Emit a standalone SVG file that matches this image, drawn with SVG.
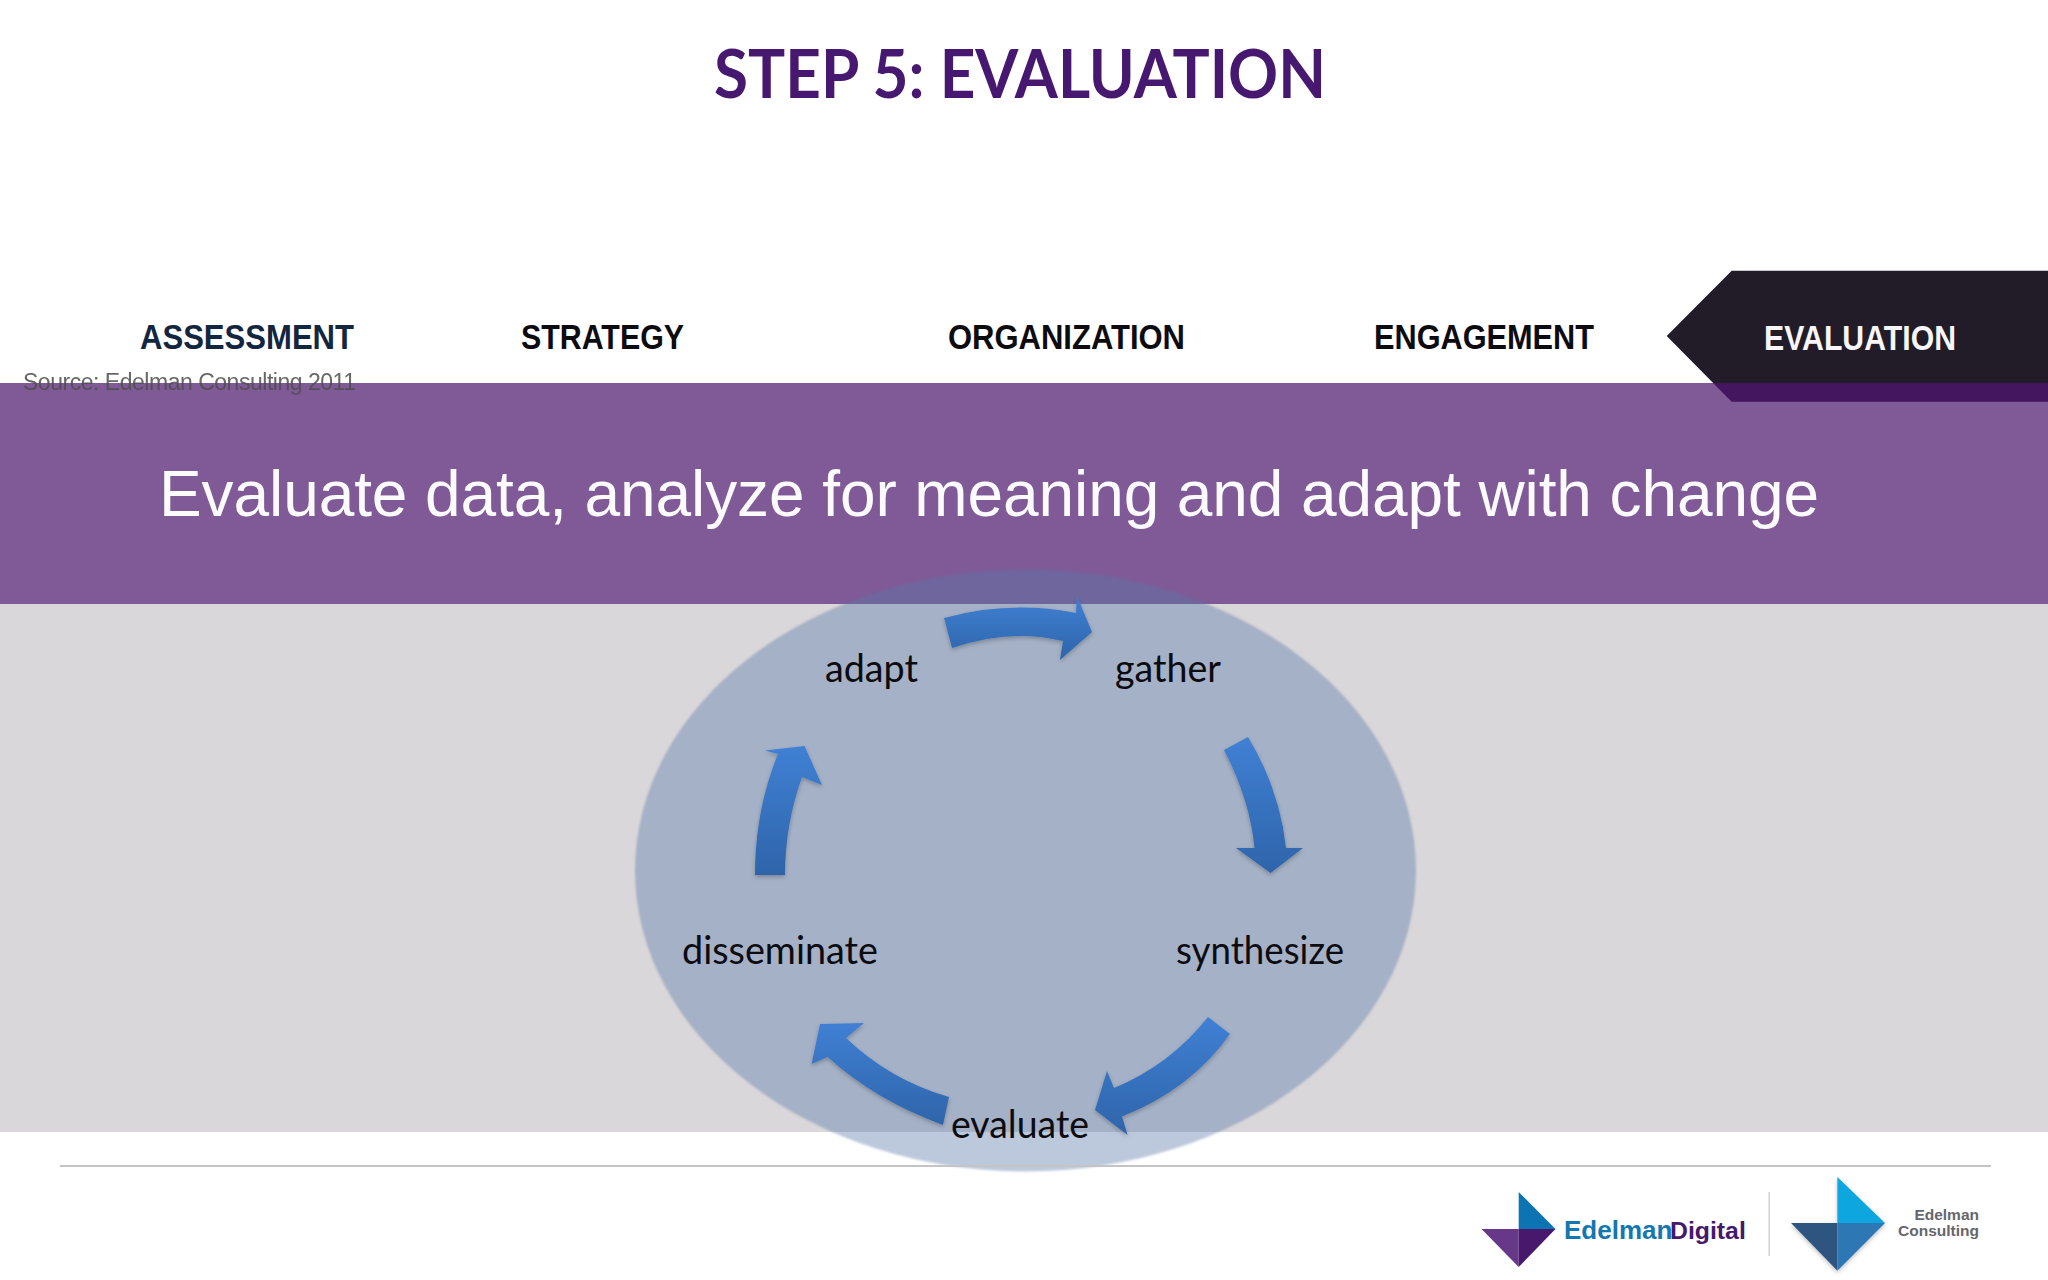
<svg xmlns="http://www.w3.org/2000/svg" width="2048" height="1280" viewBox="0 0 2048 1280">
<defs>
<linearGradient id="ab" x1="0" y1="0" x2="0" y2="1"><stop offset="0" stop-color="#4080d4"/><stop offset="1" stop-color="#2e64aa"/></linearGradient>
<filter id="soft" x="-5%" y="-5%" width="110%" height="110%"><feGaussianBlur stdDeviation="1.2"/></filter>
<filter id="sh" x="-20%" y="-20%" width="140%" height="140%"><feDropShadow dx="0" dy="2" stdDeviation="2" flood-color="#000" flood-opacity=".25"/></filter>
<filter id="sl" x="-5%" y="-20%" width="110%" height="140%"><feGaussianBlur stdDeviation=".5"/></filter>
<style>
.tab{font-family:"Liberation Sans",Arial,sans-serif;font-weight:bold;font-size:35px}
.lab{font-family:Lato,"Open Sans",sans-serif;font-size:38px;fill:#0c0c10}
.arr{fill:url(#ab);filter:url(#sh)}
.lg{font-family:"Liberation Sans",Arial,sans-serif;font-weight:bold}
</style>
</defs>
<rect width="2048" height="1280" fill="#fff"/>
<rect id="grey-band" x="0" y="604" width="2048" height="528" fill="#d9d7da"/>
<g id="tab-evaluation">
<path d="M1731.7 270.7H2048V401.7H1731.7L1666.7 336Z" fill="#211c28"/>
</g>
<rect id="purple-band" x="0" y="383" width="2048" height="221" fill="#7f5a97"/>
<path d="M1713 383H2048V401.7H1731.7Z" fill="#43165f"/>
<text x="1020" y="98" text-anchor="middle" font-family="Lato,sans-serif" font-weight="bold" font-size="67" fill="#47186f" textLength="612" lengthAdjust="spacingAndGlyphs">STEP 5: EVALUATION</text>
<text class="tab" x="140" y="349" fill="#12263f" textLength="214" lengthAdjust="spacingAndGlyphs">ASSESSMENT</text>
<text class="tab" x="521" y="349" fill="#0b0b10" textLength="163" lengthAdjust="spacingAndGlyphs">STRATEGY</text>
<text class="tab" x="948" y="349" fill="#0b0b10" textLength="237" lengthAdjust="spacingAndGlyphs">ORGANIZATION</text>
<text class="tab" x="1374" y="349" fill="#0b0b10" textLength="220" lengthAdjust="spacingAndGlyphs">ENGAGEMENT</text>
<text class="tab" x="1764" y="350" fill="#f8f6fa" textLength="192" lengthAdjust="spacingAndGlyphs">EVALUATION</text>
<text x="23" y="390" font-family="'Liberation Sans',Arial,sans-serif" font-size="23" fill="#4c4c4c" fill-opacity=".85" textLength="333" filter="url(#sl)">Source: Edelman Consulting 2011</text>
<text x="159" y="516" font-family="'Liberation Sans',Arial,sans-serif" font-size="64" fill="#fbfafc" textLength="1660">Evaluate data, analyze for meaning and adapt with change</text>
<ellipse id="cycle-ellipse" cx="1025.5" cy="870.5" rx="390.5" ry="301" fill="#5778a7" fill-opacity=".4" filter="url(#soft)"/>
<g id="connectors">
<path class="arr" d="M944 618Q1010 600 1076 613L1077 596L1092 632L1060 660L1063 641Q1010 628 952 648Z"/>
<path class="arr" d="M1224 750L1248 737Q1280 790 1286 848H1303L1270.6 873L1236 848H1254.5Q1250 800 1224 750Z"/>
<path class="arr" d="M1208 1017L1230 1034Q1190 1090 1122 1116.5L1127.6 1135L1095 1110L1107 1071L1114 1088Q1170 1065 1208 1017Z"/>
<path class="arr" d="M949 1097L943 1125Q875 1100 827.6 1057L811.6 1064L820 1024L864 1023L846 1038Q890 1080 949 1097Z"/>
<path class="arr" d="M755 875H785Q785 825 802 777L822 785L804.6 746L765 750.5L778 754Q755 810 755 875Z"/>
</g>
<g id="node-adapt"><text class="lab" x="825" y="682" textLength="93" lengthAdjust="spacingAndGlyphs">adapt</text></g>
<g id="node-gather"><text class="lab" x="1115" y="682" textLength="106" lengthAdjust="spacingAndGlyphs">gather</text></g>
<g id="node-synthesize"><text class="lab" x="1176" y="964" textLength="168" lengthAdjust="spacingAndGlyphs">synthesize</text></g>
<g id="node-evaluate"><text class="lab" x="951" y="1138" textLength="138" lengthAdjust="spacingAndGlyphs">evaluate</text></g>
<g id="node-disseminate"><text class="lab" x="682" y="964" textLength="196" lengthAdjust="spacingAndGlyphs">disseminate</text></g>
<rect id="rule" x="60" y="1165" width="1931" height="2" fill="#c4c4c4"/>
<g id="logo-digital">
<path d="M1518.7 1192L1555.5 1229H1518.7Z" fill="#0d74b4"/>
<path d="M1481.5 1229H1518.7V1267Z" fill="#67388a"/>
<path d="M1518.7 1229H1555.5L1518.7 1267Z" fill="#47186c"/>
<text class="lg" x="1564" y="1239" font-size="26" fill="#1378b0">Edelman</text>
<text class="lg" x="1670" y="1239" font-size="24.8" fill="#47186c">Digital</text>
</g>
<rect id="logo-divider" x="1768.5" y="1192" width="1.5" height="64" fill="#cfcfcf"/>
<g id="logo-consulting">
<g filter="url(#sh)">
<path d="M1837.4 1177L1885 1223H1837.4Z" fill="#0ba6df"/>
<path d="M1791 1223H1837.4V1270.7Z" fill="#2f5580"/>
<path d="M1837.4 1223H1885L1837.4 1270.7Z" fill="#2e77b5"/>
</g>
<text class="lg" x="1979" y="1220" text-anchor="end" font-size="15.5" fill="#66666c">Edelman</text>
<text class="lg" x="1979" y="1236" text-anchor="end" font-size="15.5" fill="#66666c">Consulting</text>
</g>
</svg>
